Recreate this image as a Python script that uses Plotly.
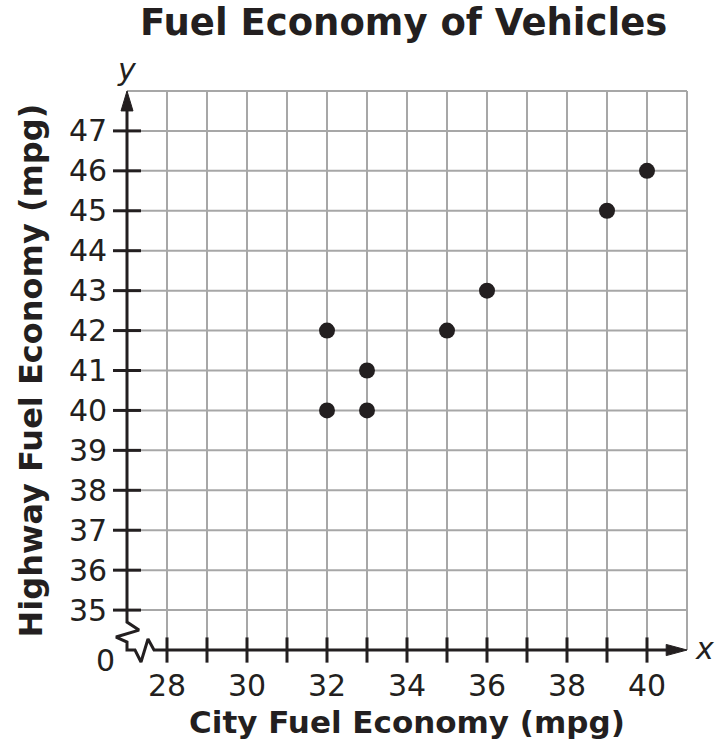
import plotly.graph_objects as go

# Data
city_mpg = [32, 32, 33, 33, 35, 36, 39, 40]
highway_mpg = [42, 40, 41, 40, 42, 43, 45, 46]
x_ticks = list(range(28, 41))
x_tick_labels = [str(v) for v in range(28, 41, 2)]
y_ticks = list(range(35, 48))
y_tick_labels = [str(v) for v in y_ticks]

INK = "#231f20"
GRID = "#a7a7a7"
FONT = "Verdana, DejaVu Sans, sans-serif"

X0, X1 = 27, 41   # axis origin (broken) and grid end
Y0, Y1 = 34, 48

fig = go.Figure()

# grid lines
gx, gy = [], []
for v in range(X0 + 1, X1 + 1):
    gx += [v, v, None]
    gy += [Y0, Y1, None]
for v in range(Y0 + 1, Y1 + 1):
    gx += [X0, X1, None]
    gy += [v, v, None]
fig.add_trace(go.Scatter(x=gx, y=gy, mode="lines", line=dict(color=GRID, width=2),
                         hoverinfo="skip", showlegend=False))

# axis lines with break marks
ax_x = [X0, X0, 27.3, 26.725, X0, X0, 27.2, 27.35, 27.525, 27.675, X1 - 0.3]
ax_y = [Y1 - 0.3, 34.7, 34.5, 34.325, 34.2, Y0, Y0, 33.7, 34.275, Y0, Y0]
fig.add_trace(go.Scatter(x=ax_x, y=ax_y, mode="lines", line=dict(color=INK, width=3),
                         hoverinfo="skip", showlegend=False))

# arrow heads
fig.add_trace(go.Scatter(x=[X1, X1 - 0.52, X1 - 0.52, X1], y=[Y0, Y0 + 0.14, Y0 - 0.14, Y0],
                         mode="lines", fill="toself", fillcolor=INK, line=dict(color=INK, width=1),
                         hoverinfo="skip", showlegend=False))
fig.add_trace(go.Scatter(x=[X0, X0 - 0.15, X0 + 0.15, X0], y=[Y1, Y1 - 0.5, Y1 - 0.5, Y1],
                         mode="lines", fill="toself", fillcolor=INK, line=dict(color=INK, width=1),
                         hoverinfo="skip", showlegend=False))

# tick marks
fig.add_trace(go.Scatter(x=x_ticks, y=[Y0] * len(x_ticks), mode="markers",
                         marker=dict(symbol="line-ns", size=18, line=dict(color=INK, width=3)),
                         cliponaxis=False, hoverinfo="skip", showlegend=False))
fig.add_trace(go.Scatter(x=[X0] * len(y_ticks), y=y_ticks, mode="markers",
                         marker=dict(symbol="line-ew", size=20, line=dict(color=INK, width=3)),
                         cliponaxis=False, hoverinfo="skip", showlegend=False))

# data points
fig.add_trace(go.Scatter(x=city_mpg, y=highway_mpg, mode="markers",
                         marker=dict(color=INK, size=16), cliponaxis=False, showlegend=False))

annotations = []
for lab in x_tick_labels:
    annotations.append(dict(x=int(lab), y=Y0, xref="x", yref="y", text=lab, showarrow=False,
                            yanchor="top", yshift=-16, font=dict(family=FONT, size=30, color=INK)))
for lab in y_tick_labels:
    annotations.append(dict(x=X0, y=int(lab), xref="x", yref="y", text=lab, showarrow=False,
                            xanchor="right", xshift=-18, font=dict(family=FONT, size=30, color=INK)))
annotations.append(dict(x=X0, y=Y0, xref="x", yref="y", text="0", showarrow=False,
                        xanchor="right", yanchor="middle", xshift=-10, yshift=-10,
                        font=dict(family=FONT, size=30, color=INK)))
annotations.append(dict(x=X1, y=Y0, xref="x", yref="y", text="<i>x</i>", showarrow=False,
                        xanchor="left", xshift=6, yshift=2, font=dict(family=FONT, size=30, color=INK)))
annotations.append(dict(x=X0, y=Y1, xref="x", yref="y", text="<i>y</i>", showarrow=False,
                        yanchor="bottom", yshift=2, font=dict(family=FONT, size=30, color=INK)))
annotations.append(dict(x=34, y=Y0, xref="x", yref="y", text="<b>City Fuel Economy (mpg)</b>",
                        showarrow=False, yanchor="middle", yshift=-72,
                        font=dict(family=FONT, size=31, color=INK)))
annotations.append(dict(x=X0, y=41, xref="x", yref="y", text="<b>Highway Fuel Economy (mpg)</b>",
                        showarrow=False, textangle=-90, xanchor="center", xshift=-97,
                        font=dict(family=FONT, size=32, color=INK)))

fig.update_layout(
    width=717, height=750,
    margin=dict(l=107, r=10, t=71, b=80, autoexpand=False),
    paper_bgcolor="white", plot_bgcolor="white",
    title=dict(text="<b>Fuel Economy of Vehicles</b>", x=0.563, xanchor="center",
               y=0.97, yanchor="middle", yref="container",
               font=dict(family=FONT, size=37, color=INK)),
    xaxis=dict(range=[26.5, 41.5], visible=False, fixedrange=True),
    yaxis=dict(range=[33.5, 48.5], visible=False, fixedrange=True),
    annotations=annotations,
)

fig.write_html("out.html", config={"displayModeBar": False},
               post_script="document.body.style.margin='0';")
